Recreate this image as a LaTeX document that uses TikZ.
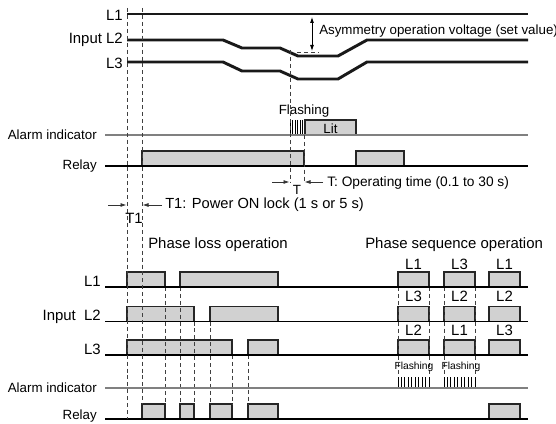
\documentclass[tikz,border=0pt]{standalone}
\usepackage{fontspec}
\setmainfont{Liberation Sans}
\usetikzlibrary{arrows.meta}

\begin{document}
\begin{tikzpicture}[x=0.75pt, y=-0.75pt,
        every node/.style={font=\fontsize{10}{12}\selectfont, inner sep=0pt},
        sig/.style={line width=2.2pt, black!90},
        baseline/.style={line width=0.8pt, black},
        alarmline/.style={line width=0.8pt, black!50},
        pulse/.style={draw=black!85, line width=1.1pt, fill=black!18},
        guide/.style={line width=0.6pt, black!75, dash pattern=on 3pt off 2.2pt},
        flash/.style={line width=0.6pt, black},
        tip/.style={line width=0.6pt, black!80, -{Latex[length=4.5pt,width=3pt]}},
        small/.style={font=\fontsize{7.7}{9}\selectfont},
        heading/.style={font=\fontsize{11.2}{13}\selectfont}]
    \useasboundingbox (0,0) rectangle (556,424);

    % --- upper chart: input voltages
    \draw[sig] (127,14) -- (528,14);
    \draw[sig] (127,40) -- (223,40) -- (242,48) -- (280,48) -- (298,56) -- (338,56) -- (367,40) -- (528,40);
    \draw[sig] (127,62) -- (223,62) -- (242,71) -- (280,71) -- (298,79) -- (338,79) -- (367,62) -- (528,62);
    \node[anchor=east, heading] (tl1) at (123,15) {L1};
    \node[anchor=east, heading] (tl2) at (123,40) {Input L2};
    \node[anchor=east, heading] (tl3) at (123,63) {L3};
    \draw[line width=0.6pt, {Latex[length=4.5pt,width=3pt]}-{Latex[length=4.5pt,width=3pt]}] (312,17) -- (312,51);
    \draw[guide] (297,52) -- (318,52);
    \node[anchor=west] (asym) at (319,31) {Asymmetry operation voltage (set value)};

    % --- upper chart: alarm and relay
    \draw[pulse] (142,151) rectangle (304,166);
    \draw[pulse] (356,151) rectangle (404,166);
    \draw[pulse] (305,120) rectangle (356,135);
    \node (lit) at (330.5,128.5) {Lit};
    \foreach \x in {290,292.5,295,297.5,300,302.5}
        \draw[flash] (\x,120) -- (\x,135);
    \node (flashtop) at (304,111) {Flashing};
    \draw[alarmline] (105,135) -- (528,135);
    \draw[baseline] (105,166) -- (528,166);
    \node[anchor=east] (talarm) at (97,135) {Alarm indicator};
    \node[anchor=east] (trelay) at (97,166) {Relay};

    % --- operating time T
    \draw[guide] (290,50) -- (290,183);
    \draw[guide] (304,135) -- (304,183);
    \draw[tip] (272,182) -- (289.5,182);
    \draw[tip] (323,182) -- (304.5,182);
    \node (tlab) at (297,190) {T};
    \node[anchor=west, font=\fontsize{10.3}{12}\selectfont] (ttext) at (327,183) {T: Operating time (0.1 to 30 s)};

    % --- lower chart: phase loss
    \node[anchor=west, heading] (ploss) at (148,245) {Phase loss operation};
    \draw[pulse] (127,272) rectangle (165,287);
    \draw[pulse] (180,272) rectangle (278,287);
    \draw[pulse] (127,306.5) rectangle (194,321.5);
    \draw[pulse] (210,306.5) rectangle (278,321.5);
    \draw[pulse] (127,340) rectangle (232,355);
    \draw[pulse] (248,340) rectangle (278,355);
    \draw[pulse] (142,404) rectangle (165,419);
    \draw[pulse] (180,404) rectangle (194,419);
    \draw[pulse] (210,404) rectangle (232,419);
    \draw[pulse] (248,404) rectangle (278,419);
    \draw[guide] (165,287) -- (165,404);
    \draw[guide] (180,287) -- (180,404);
    \draw[guide] (194,321.5) -- (194,404);
    \draw[guide] (210,321.5) -- (210,404);
    \draw[guide] (232,355) -- (232,404);
    \draw[guide] (248,355) -- (248,404);

    % --- lower chart: phase sequence
    \node[anchor=west, heading] (pseq) at (365,245) {Phase sequence operation};
    \foreach \y in {272,306.5,340}
        \foreach \a/\b in {398/429,444/475,489/520}
            \draw[pulse] (\a,\y) rectangle (\b,\y+15);
    \draw[pulse] (489,404) rectangle (520,419);
    \node[heading] (sa1) at (413.5,264) {L1};
    \node[heading] (sb1) at (459.5,264) {L3};
    \node[heading] (sc1) at (504.5,264) {L1};
    \node[heading] (sa2) at (413.5,296) {L3};
    \node[heading] (sb2) at (459.5,296) {L2};
    \node[heading] (sc2) at (504.5,296) {L2};
    \node[heading] (sa3) at (413.5,330) {L2};
    \node[heading] (sb3) at (459.5,330) {L1};
    \node[heading] (sc3) at (504.5,330) {L3};
    \foreach \x in {398,429,444,475}
        \draw[guide] (\x,287) -- (\x,388);
    \foreach \i in {0,...,9} {
        \draw[flash] ({398+3.44*\i},377) -- ({398+3.44*\i},388);
        \draw[flash] ({444+3.44*\i},377) -- ({444+3.44*\i},388);
    }
    \node[small] (flasha) at (414,367) {Flashing};
    \node[small] (flashb) at (461,367) {Flashing};

    % --- lower chart: baselines and labels
    \draw[baseline] (105,287) -- (528,287);
    \draw[baseline] (105,321.5) -- (528,321.5);
    \draw[baseline] (105,355) -- (528,355);
    \draw[alarmline] (105,388) -- (528,388);
    \draw[baseline] (105,419) -- (528,419);
    \node[anchor=base east, heading] (bl1) at (101,286.5) {L1};
    \node[anchor=base east, heading] (bl2) at (101,320.5) {Input\ \ L2};
    \node[anchor=base east, heading] (bl3) at (101,354) {L3};
    \node[anchor=east] (balarm) at (97,388) {Alarm indicator};
    \node[anchor=east] (brelay) at (97,416) {Relay};

    % --- power ON lock T1
    \draw[guide] (127,8) -- (127,419);
    \draw[guide] (142,8) -- (142,404);
    \draw[tip] (108,205) -- (126.5,205);
    \draw[tip] (162,205) -- (142.5,205);
    \node[heading] (t1lab) at (134,218) {T1};
    \node[anchor=west, font=\fontsize{11}{13}\selectfont] (t1text) at (165,205) {T1: Power ON lock (1 s or 5 s)};
\end{tikzpicture}
\end{document}
